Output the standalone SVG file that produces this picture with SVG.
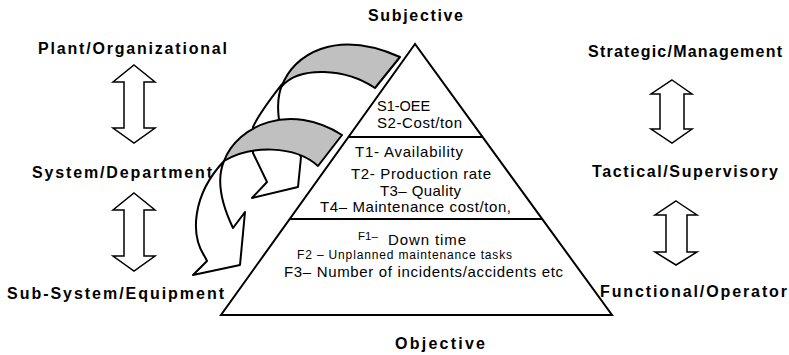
<svg xmlns="http://www.w3.org/2000/svg" width="789" height="355" viewBox="0 0 789 355">
<style>
.lbl{font-family:"Liberation Sans",Arial,sans-serif;font-weight:bold;font-size:16px;fill:#000}
.t{font-family:"Liberation Sans",Arial,sans-serif;font-size:15px;fill:#000}
.dbl{fill:#fff;stroke:#000;stroke-width:1.5;stroke-linejoin:miter}
.crv{fill:#fff;stroke:#000;stroke-width:2;stroke-linejoin:round}
.band{fill:#c0c0c0;stroke:#000;stroke-width:2;stroke-linejoin:round}
.pyr{fill:#fff;stroke:#000;stroke-width:2}
</style>
<rect width="789" height="355" fill="#fff"/>
<g id="pyramid">
<polygon class="pyr" points="415,44 221,315 612,315"/>
<line x1="349" y1="137" x2="483" y2="137" stroke="#000" stroke-width="2"/>
<line x1="290" y1="219" x2="542" y2="219" stroke="#000" stroke-width="2"/>
</g>
<g id="level-strategic">
<text class="t" x="377" y="111" style="font-size:14.5px">S1-OEE</text>
<text class="t" x="377" y="128" textLength="85" lengthAdjust="spacing">S2-Cost/ton</text>
</g>
<g id="level-tactical">
<text class="t" x="355" y="157" textLength="108" lengthAdjust="spacing">T1- Availability</text>
<text class="t" x="351" y="179" textLength="140" lengthAdjust="spacing">T2- Production rate</text>
<text class="t" x="380" y="196" textLength="81" lengthAdjust="spacing">T3– Quality</text>
<text class="t" x="320" y="212" textLength="191" lengthAdjust="spacing">T4– Maintenance cost/ton,</text>
</g>
<g id="level-functional">
<text class="t" x="358" y="240" style="font-size:11.5px">F1–</text>
<text class="t" x="388" y="244.5" textLength="78" lengthAdjust="spacing">Down time</text>
<text class="t" x="297" y="259" style="font-size:12px" textLength="215" lengthAdjust="spacing">F2 – Unplanned maintenance tasks</text>
<text class="t" x="284" y="276.5" textLength="279" lengthAdjust="spacing">F3– Number of incidents/accidents etc</text>
</g>
<g id="subjective"><text class="lbl" x="368" y="21" textLength="95" lengthAdjust="spacing">Subjective</text></g>
<g id="objective"><text class="lbl" x="395" y="349" textLength="90" lengthAdjust="spacing">Objective</text></g>
<g id="plant"><text class="lbl" x="38" y="54" textLength="189" lengthAdjust="spacing">Plant/Organizational</text></g>
<g id="system"><text class="lbl" x="32" y="178" textLength="180" lengthAdjust="spacing">System/Department</text></g>
<g id="subsystem"><text class="lbl" x="7" y="299" textLength="217" lengthAdjust="spacing">Sub-System/Equipment</text></g>
<g id="strategic"><text class="lbl" x="588" y="57" textLength="194" lengthAdjust="spacing">Strategic/Management</text></g>
<g id="tactical"><text class="lbl" x="592" y="177" textLength="186" lengthAdjust="spacing">Tactical/Supervisory</text></g>
<g id="functional"><text class="lbl" x="600" y="297" textLength="187" lengthAdjust="spacing">Functional/Operator</text></g>
<g id="connectors">
<polygon class="dbl" points="134,65 155,82 144,82 144,128 155,128 134,143 113,128 124,128 124,82 113,82"/>
<polygon class="dbl" points="134,193 155,210 144,210 144,256 155,256 134,271 113,256 124,256 124,210 113,210"/>
<polygon class="dbl" points="672,80 692,94 684,94 684,129 692,129 672,143 651,129 660,129 660,94 651,94"/>
<polygon class="dbl" points="676,201 697,215 687,215 687,252 697,252 676,265 655,252 666,252 666,215 655,215"/>
<path class="crv" d="M283,83 C272,97 260,112 253,127 L253,153 L267,182 L252,198 L298,187 L301,157 L279,120 C277,105 278,93 283,83 Z"/>
<path class="band" d="M282,86 C293,55 335,28 400,57 L375,88 C345,68 300,66 282,86 Z"/>
<path class="crv" d="M224,161 C192,195 190,235 205,257 L207,261 L193,275 L240,265 L245,212 L233,228 C222,205 216,180 224,161 Z"/>
<path class="band" d="M224,161 C238,125 290,102 342,135 L318,166 C295,145 250,145 224,161 Z"/>
</g>
</svg>
